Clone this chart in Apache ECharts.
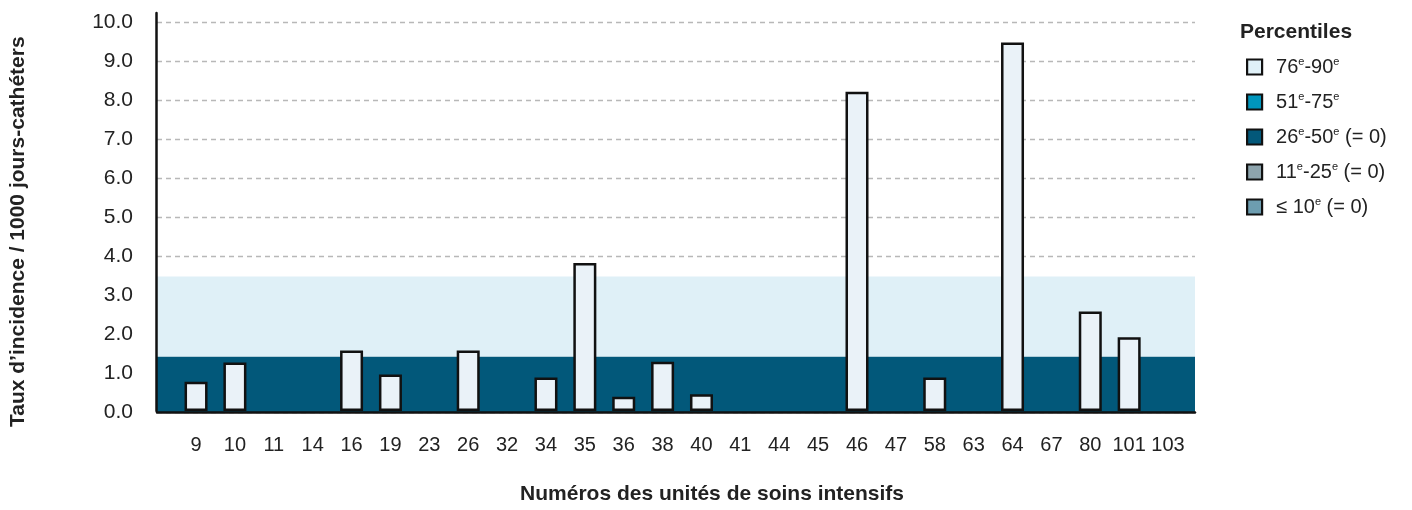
<!DOCTYPE html>
<html>
<head>
<meta charset="utf-8">
<script src="https://cdn.jsdelivr.net/npm/echarts@6/dist/echarts.min.js"></script>
<style>
  html, body { margin: 0; padding: 0; background: #fff; }
  #chart { width: 1412px; height: 510px; }
</style>
</head>
<body>
<div id="chart"></div>
<script>
// ICU unit numbers and incidence rates (per 1000 catheter-days)
const units = ["9", "10", "11", "14", "16", "19", "23", "26", "32", "34", "35", "36", "38",
  "40", "41", "44", "45", "46", "47", "58", "63", "64", "67", "80", "101", "103"];
const rates = [0.75, 1.25, 0, 0, 1.56, 0.94, 0, 1.56, 0, 0.86, 3.81, 0.37, 1.27,
  0.43, 0, 0, 0, 8.22, 0, 0.86, 0, 9.49, 0, 2.56, 1.9, 0];
// percentile bands drawn behind the bars
const bandDark = [0, 1.44];
const bandLight = [1.44, 3.49];
const legendNames = ["76e-90e", "51e-75e", "26e-50e (= 0)", "11e-25e (= 0)", "≤ 10e (= 0)"];
const legendColors = ["#e0f1f8", "#0096bd", "#03587a", "#8da4ad", "#6d9db0"];

const FONT = "Liberation Sans, Arial, sans-serif";
const TXT = "#222";
const chart = echarts.init(document.getElementById("chart"));

const plotLeft = 156, plotRight = 1195, baseY = 412.7, unitPx = 39;
const catW = 38.88;
const catLeft = 176.6;

chart.setOption({
  animation: false,
  textStyle: { fontFamily: FONT },
  title: {
    text: "Percentiles",
    left: 1235,
    top: 17,
    textStyle: { fontSize: 21, fontWeight: "bold", color: TXT, fontFamily: FONT },
  },
  legend: {
    data: legendNames,
    orient: "vertical",
    left: 1241,
    top: 51,
    icon: "rect",
    itemWidth: 15,
    itemHeight: 15,
    itemGap: 13,
    selectedMode: false,
    itemStyle: { borderColor: "#111", borderWidth: 2.2 },
    formatter: (n) => n.replace(/(\d+)e/g, "$1{s|e}"),
    textStyle: {
      fontSize: 20,
      color: TXT,
      fontFamily: FONT,
      lineHeight: 22,
      padding: [0, 0, 0, 9],
      rich: { s: { fontSize: 11, verticalAlign: "top", color: TXT, fontFamily: FONT, lineHeight: 20 } },
    },
  },
  grid: [
    { left: plotLeft, width: plotRight - plotLeft, top: baseY - 10 * unitPx, height: 10 * unitPx },
    { left: catLeft, width: catW * units.length, top: baseY - 10.25 * unitPx, height: 10.25 * unitPx },
  ],
  xAxis: [
    {
      gridIndex: 0, type: "value", min: 0, max: 1, z: 10,
      axisLine: { show: true, lineStyle: { color: "#111", width: 2.5 } },
      axisTick: { show: false }, axisLabel: { show: false }, splitLine: { show: false },
    },
    {
      gridIndex: 1, type: "category", data: units,
      axisLine: { show: false }, axisTick: { show: false },
      axisLabel: { fontSize: 20, color: TXT, margin: 24, fontFamily: FONT, interval: 0 },
      name: "Numéros des unités de soins intensifs",
      nameLocation: "middle",
      nameGap: 73,
      nameTextStyle: { fontSize: 21, fontWeight: "bold", color: TXT, fontFamily: FONT, padding: [0, 0, 0, 60] },
    },
  ],
  yAxis: [
    {
      gridIndex: 0, type: "value", min: 0, max: 10, interval: 1,
      axisLine: { show: false }, axisTick: { show: false },
      axisLabel: { fontSize: 21, color: TXT, margin: 24, fontFamily: FONT, formatter: (v) => v.toFixed(1) },
      splitLine: { lineStyle: { color: "#b8b8b8", width: 1.3, type: [5, 4] } },
      name: "Taux d’incidence / 1000 jours-cathéters",
      nameLocation: "middle",
      nameGap: 128,
      nameTextStyle: { fontSize: 21, fontWeight: "bold", color: TXT, fontFamily: FONT, padding: [0, 28, 0, 0] },
    },
    {
      gridIndex: 1, type: "value", min: 0, max: 10.25, offset: catLeft - plotLeft, z: 10,
      axisLine: { show: true, lineStyle: { color: "#111", width: 2.5 } },
      axisTick: { show: false }, axisLabel: { show: false }, splitLine: { show: false },
    },
  ],
  series: [
    {
      type: "line", xAxisIndex: 0, yAxisIndex: 0, data: [], silent: true,
      markArea: {
        silent: true,
        data: [
          [{ yAxis: bandDark[0], itemStyle: { color: "#02587a" } }, { yAxis: bandDark[1] }],
          [{ yAxis: bandLight[0], itemStyle: { color: "#dff0f7" } }, { yAxis: bandLight[1] }],
        ],
      },
    },
    {
      type: "bar", name: "rates", xAxisIndex: 1, yAxisIndex: 1, stack: "u",
      // zero rates draw no bar
      data: rates.map((v) => (v === 0 ? null : v)), barWidth: 23,
      itemStyle: { color: "#eaf2f8", borderColor: "#111", borderWidth: 2.5 },
    },
    ...legendNames.map((n, i) => ({
      type: "bar", name: n, xAxisIndex: 1, yAxisIndex: 1, stack: "u", data: [],
      itemStyle: { color: legendColors[i] },
    })),
  ],
});
</script>
</body>
</html>
